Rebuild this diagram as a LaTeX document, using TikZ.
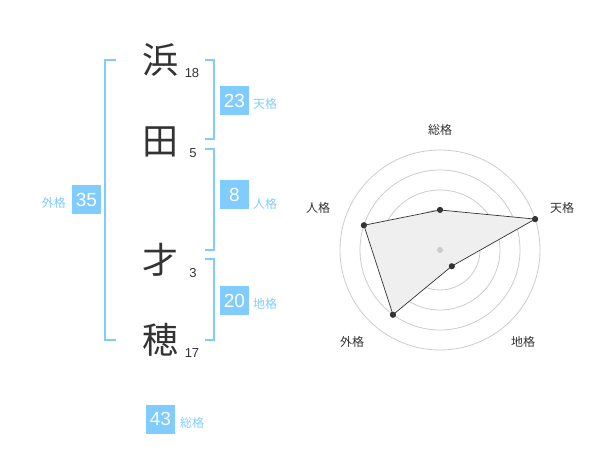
\documentclass[tikz,border=0pt]{standalone}
\usepackage{fontspec}
\setmainfont{Liberation Sans}
\newfontfamily\jp{Noto Sans CJK JP}
\definecolor{kakublue}{HTML}{80CCFF}
\definecolor{inkgrey}{HTML}{333333}
\definecolor{ringgrey}{HTML}{CCCCCC}
\definecolor{areagrey}{HTML}{EFEFEF}
\tikzset{
  kanji/.style={text=inkgrey, font=\jp\fontsize{36}{36}\selectfont, inner sep=0pt},
  strokes/.style={text=inkgrey, font=\fontsize{13}{13}\selectfont, inner sep=0pt},
  kakubox/.style={fill=kakublue, text=white, minimum size=29pt, inner sep=0pt, font=\fontsize{19}{19}\selectfont},
  kakulabel/.style={text=kakublue, font=\jp\fontsize{12}{12}\selectfont, inner sep=0pt},
  bracket/.style={draw=kakublue, line width=2pt},
  axislabel/.style={text=inkgrey, font=\jp\fontsize{12}{12}\selectfont, inner sep=0pt},
  vertex/.style={circle, fill=inkgrey, inner sep=0pt, minimum size=6pt},
}
\begin{document}
\begin{tikzpicture}[x=1pt,y=-1pt]
  \useasboundingbox (0,0) rectangle (600,470);
  % name
  \node[kanji] (hama) at (160,60) {浜};
  \node[kanji] (ta) at (160,142) {田};
  \node[kanji] (sai) at (160,260) {才};
  \node[kanji] (ho) at (160,340) {穂};
  % stroke counts
  \node[strokes] (n18) at (192,73) {18};
  \node[strokes] (n5) at (193,153) {5};
  \node[strokes] (n3) at (193,273) {3};
  \node[strokes] (n17) at (192,353) {17};
  % brackets
  \coordinate (gtop) at (116,60);
  \coordinate (gbot) at (116,340);
  \draw[bracket] (gtop) -| (105,200) |- (gbot);
  \coordinate (ttop) at (205,60);
  \coordinate (tbot) at (205,139);
  \draw[bracket] (ttop) -| (214,100) |- (tbot);
  \coordinate (jtop) at (205,149);
  \coordinate (jbot) at (205,250);
  \draw[bracket] (jtop) -| (214,200) |- (jbot);
  \coordinate (ctop) at (205,259);
  \coordinate (cbot) at (205,340);
  \draw[bracket] (ctop) -| (214,300) |- (cbot);
  % scores
  \node[kakubox] (ten) at (234.5,100.5) {23};
  \node[kakulabel, anchor=west] (tenl) at (253,104) {天格};
  \node[kakubox] (jin) at (234.5,195) {8};
  \node[kakulabel, anchor=west] (jinl) at (253,204) {人格};
  \node[kakubox] (chi) at (234.5,300.5) {20};
  \node[kakulabel, anchor=west] (chil) at (253,304) {地格};
  \node[kakubox] (gai) at (86.5,200) {35};
  \node[kakulabel, anchor=east] (gail) at (66,203) {外格};
  \node[kakubox] (sou) at (160.5,419) {43};
  \node[kakulabel, anchor=west] (soul) at (180,423) {総格};
  % radar rings
  \coordinate (c) at (440,250);
  \foreach \r in {20,40,...,100}
    \draw[ringgrey, line width=0.8pt] (c) circle (\r pt);
  % radar area
  \path (c) ++(-90:40) node[vertex] (vsou) {};
  \path (c) ++(-18:100) node[vertex] (vten) {};
  \path (c) ++(54:20) node[vertex] (vchi) {};
  \path (c) ++(126:80) node[vertex] (vgai) {};
  \path (c) ++(-162:80) node[vertex] (vjin) {};
  \filldraw[fill=areagrey, draw=inkgrey, line width=0.7pt]
    (vsou.center) -- (vten.center) -- (vchi.center) -- (vgai.center) -- (vjin.center) -- cycle;
  \foreach \v in {vsou,vten,vchi,vgai,vjin}
    \fill[inkgrey] (\v) circle (3pt);
  \fill[ringgrey] (c) circle (3pt);
  % axis labels
  \node[axislabel] (asou) at (440,130) {総格};
  \node[axislabel] (aten) at (562,208) {天格};
  \node[axislabel] (ajin) at (318,208) {人格};
  \node[axislabel] (agai) at (352,342) {外格};
  \node[axislabel] (achi) at (523,342) {地格};
\end{tikzpicture}
\end{document}
